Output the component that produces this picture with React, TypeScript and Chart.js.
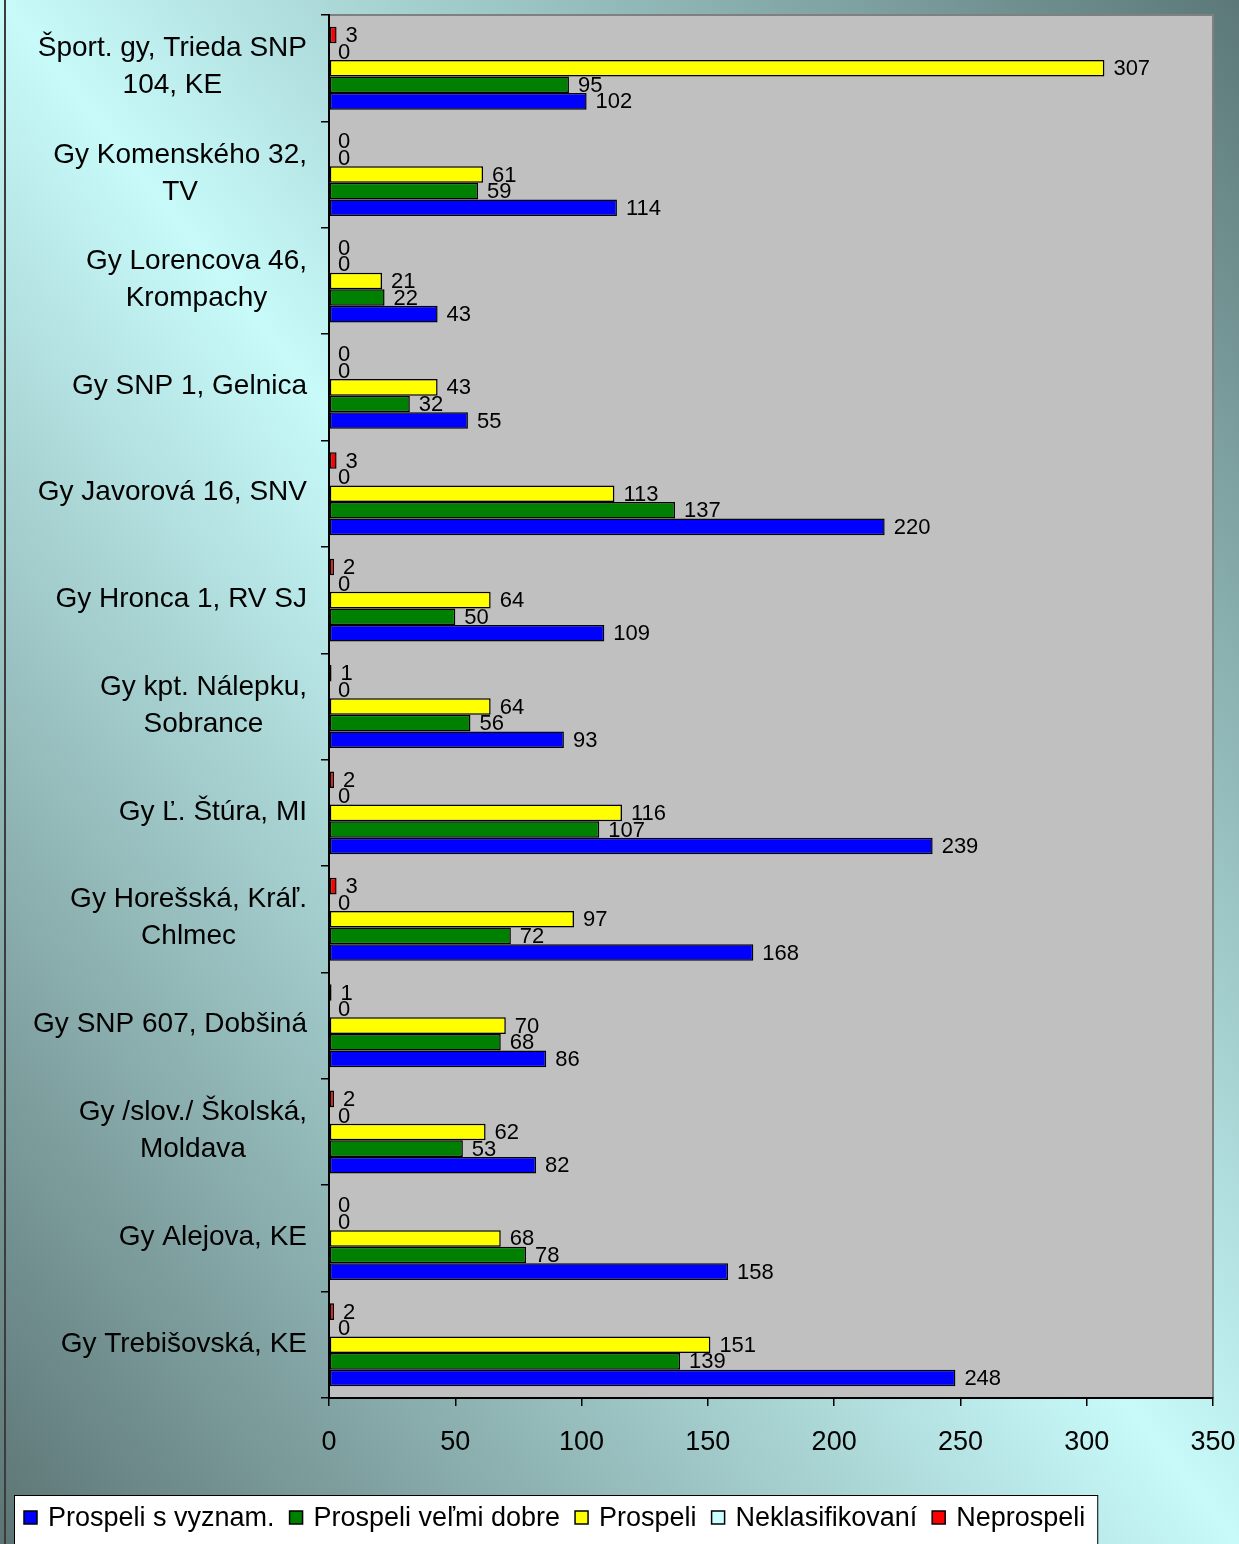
import React, { useEffect, useRef } from "react";
import { Chart, registerables } from "chart.js";

Chart.register(...registerables);

const FONT = "'Liberation Sans', Arial, Helvetica, sans-serif";

// Categories (top to bottom); "\n" marks a line break in the axis label
const categories = [
  "Šport. gy, Trieda SNP\n104, KE",
  "Gy Komenského 32,\nTV",
  "Gy Lorencova 46,\nKrompachy",
  "Gy SNP 1, Gelnica",
  "Gy Javorová 16, SNV",
  "Gy Hronca 1, RV SJ",
  "Gy kpt. Nálepku,\nSobrance",
  "Gy Ľ. Štúra, MI",
  "Gy Horešská, Kráľ.\nChlmec",
  "Gy SNP 607, Dobšiná",
  "Gy /slov./ Školská,\nMoldava",
  "Gy Alejova, KE",
  "Gy Trebišovská, KE",
];

// Series values (same order as categories)
const neprospeli = [3, 0, 0, 0, 3, 2, 1, 2, 3, 1, 2, 0, 2];
const neklasifikovani = [0, 0, 0, 0, 0, 0, 0, 0, 0, 0, 0, 0, 0];
const prospeli = [307, 61, 21, 43, 113, 64, 64, 116, 97, 70, 62, 68, 151];
const prospeliVelmiDobre = [95, 59, 22, 32, 137, 50, 56, 107, 72, 68, 53, 78, 139];
const prospeliSVyznam = [102, 114, 43, 55, 220, 109, 93, 239, 168, 86, 82, 158, 248];

// Series names and colours (drawn top to bottom within each category)
const seriesNames = ["Neprospeli", "Neklasifikovaní", "Prospeli", "Prospeli veľmi dobre", "Prospeli s vyznam."];
const seriesValues = [neprospeli, neklasifikovani, prospeli, prospeliVelmiDobre, prospeliSVyznam];
const seriesColors = ["#FF0000", "#CCFFFF", "#FFFF00", "#008000", "#0000FF"];

// Value axis
const xMin = 0;
const xMax = 350;
const xStep = 50;

const backgroundPlugin = {
  id: "bgPlot",
  beforeDraw(chart: any) {
    const ctx = chart.ctx;
    const W = chart.width;
    const H = chart.height;
    ctx.save();
    const cx = W / 2;
    const cy = H / 2;
    const nrm = Math.hypot(W, H);
    const nx = H / nrm;
    const ny = -W / nrm;
    const ext = (W * H) / nrm;
    const g = ctx.createLinearGradient(cx - nx * ext, cy - ny * ext, cx + nx * ext, cy + ny * ext);
    g.addColorStop(0, "#5C7474");
    g.addColorStop(0.5, "#C8FAFA");
    g.addColorStop(1, "#5C7878");
    ctx.fillStyle = g;
    ctx.fillRect(0, 0, W, H);
    // left frame line
    ctx.fillStyle = "#3C3C3C";
    ctx.fillRect(4, 0, 2, H);
    // plot area
    const { left, top, right, bottom } = chart.chartArea;
    ctx.fillStyle = "#C0C0C0";
    ctx.fillRect(left, top, right - left, bottom - top);
    ctx.strokeStyle = "#808080";
    ctx.lineWidth = 2;
    ctx.beginPath();
    ctx.moveTo(left, top);
    ctx.lineTo(right, top);
    ctx.lineTo(right, bottom);
    ctx.stroke();
    ctx.restore();
  },
};

const valueLabelsPlugin = {
  id: "valueLabels",
  afterDatasetsDraw(chart: any) {
    const ctx = chart.ctx;
    ctx.save();
    ctx.font = `22px ${FONT}`;
    ctx.fillStyle = "#000";
    ctx.textAlign = "left";
    ctx.textBaseline = "middle";
    chart.data.datasets.forEach((ds: any, di: number) => {
      const meta = chart.getDatasetMeta(di);
      meta.data.forEach((el: any, i: number) => {
        const { x, y } = el.getProps(["x", "y"], true);
        ctx.fillText(String(ds.data[i]), x + 9, y + 1);
      });
    });
    ctx.restore();
  },
};

const categoryLabelsPlugin = {
  id: "categoryLabels",
  afterDraw(chart: any) {
    const ctx = chart.ctx;
    const yScale = chart.scales.y;
    ctx.save();
    ctx.font = `28px ${FONT}`;
    ctx.fillStyle = "#000";
    ctx.textAlign = "center";
    ctx.textBaseline = "middle";
    const lh = 37;
    categories.forEach((cat, i) => {
      const lines = cat.split("\n");
      const yc = yScale.getPixelForValue(i);
      const rightEdge = yScale.right - 22;
      const blockW = Math.max(...lines.map((l) => ctx.measureText(l).width));
      const xc = rightEdge - blockW / 2;
      lines.forEach((l, j) => {
        const y = yc - 1 + (j - (lines.length - 1) / 2) * lh;
        ctx.fillText(l, xc, y);
      });
    });
    ctx.restore();
  },
};

const legendPlugin = {
  id: "customLegend",
  afterDraw(chart: any) {
    const ctx = chart.ctx;
    ctx.save();
    ctx.font = `27px ${FONT}`;
    ctx.textBaseline = "middle";
    ctx.textAlign = "left";
    const top = chart.height - 49;
    const left = 14;
    const yc = top + 23;
    const gap = 15;
    const order = chart.data.datasets.map((_: any, i: number) => i).reverse();
    let x = left + 10;
    const pos: { bx: number; tx: number }[] = [];
    order.forEach((di: number) => {
      const label = chart.data.datasets[di].label;
      pos.push({ bx: x, tx: x + 24 });
      x += 24 + ctx.measureText(label).width + gap;
    });
    const rightEdge = x - gap + 12;
    ctx.fillStyle = "#FFFFFF";
    ctx.fillRect(left, top, rightEdge - left, chart.height - top + 10);
    ctx.strokeStyle = "#000";
    ctx.lineWidth = 1;
    ctx.strokeRect(left + 0.5, top + 0.5, rightEdge - left, chart.height - top + 10);
    order.forEach((di: number, k: number) => {
      const ds = chart.data.datasets[di];
      const { bx, tx } = pos[k];
      ctx.fillStyle = ds.backgroundColor;
      ctx.fillRect(bx, yc - 7, 13, 13);
      ctx.strokeStyle = "#000";
      ctx.lineWidth = 1.5;
      ctx.strokeRect(bx, yc - 7, 13, 13);
      ctx.fillStyle = "#000";
      ctx.fillText(ds.label, tx, yc + 1);
    });
    ctx.restore();
  },
};

export default function App() {
  const canvasRef = useRef<HTMLCanvasElement | null>(null);

  useEffect(() => {
    document.body.style.margin = "0";
    document.body.style.overflow = "hidden";
    const canvas = canvasRef.current;
    if (!canvas) return;
    const chart = new Chart(canvas, {
      type: "bar",
      data: {
        labels: categories.map((c) => c.replace("\n", " ")),
        datasets: seriesNames.map((name, i) => ({
          label: name,
          data: seriesValues[i],
          backgroundColor: seriesColors[i],
          borderColor: "#000000",
          borderWidth: 1.5,
          borderSkipped: false,
          categoryPercentage: 0.78,
          barPercentage: 1.0,
        })),
      },
      options: {
        indexAxis: "y",
        responsive: false,
        animation: false,
        devicePixelRatio: 1,
        layout: { padding: { left: 0, top: 15, right: 26, bottom: 86 } },
        plugins: {
          legend: { display: false },
          tooltip: { enabled: false },
        },
        scales: {
          x: {
            type: "linear",
            position: "bottom",
            min: xMin,
            max: xMax,
            ticks: {
              stepSize: xStep,
              color: "#000",
              font: { family: FONT, size: 27 },
              padding: 20,
            },
            grid: {
              drawOnChartArea: false,
              drawTicks: true,
              tickLength: 8,
              color: "#000",
              lineWidth: 1.5,
            },
            border: { color: "#000", width: 2 },
            afterFit: (s: any) => {
              s.height = 60;
              s.paddingLeft = 0;
              s.paddingRight = 0;
            },
          },
          y: {
            type: "category",
            position: "left",
            offset: true,
            ticks: { display: false },
            grid: {
              offset: true,
              drawOnChartArea: false,
              drawTicks: true,
              tickLength: 8,
              color: "#000",
              lineWidth: 1.5,
            },
            border: { color: "#000", width: 2 },
            afterFit: (s: any) => {
              s.width = 329;
            },
          },
        },
      } as any,
      plugins: [backgroundPlugin, valueLabelsPlugin, categoryLabelsPlugin, legendPlugin],
    });
    return () => chart.destroy();
  }, []);

  return (
    <canvas
      ref={canvasRef}
      width={1239}
      height={1544}
      style={{ display: "block", width: "1239px", height: "1544px" }}
    />
  );
}
